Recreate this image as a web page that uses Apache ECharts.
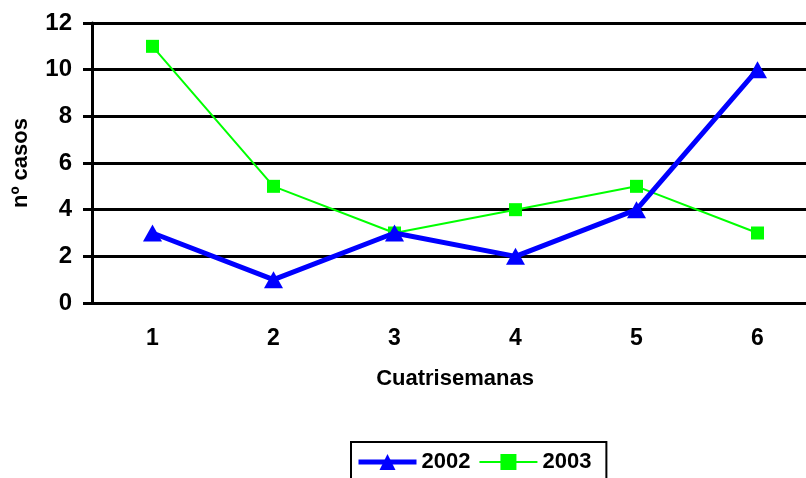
<!DOCTYPE html>
<html>
<head>
<meta charset="utf-8">
<script src="https://cdn.jsdelivr.net/npm/echarts@6/dist/echarts.min.js"></script>
<style>
    html, body { margin: 0; padding: 0; background: #fff; }
    #chart { width: 806px; height: 478px; }
</style>
</head>
<body>
<div id="chart"></div>
<script>
// datos
const categories = ["1", "2", "3", "4", "5", "6"];
const casos2002 = [3, 1, 3, 2, 4, 10];
const casos2003 = [11, 5, 3, 4, 5, 3];
const yTicks = { min: 0, max: 12, interval: 2 };

const chart = echarts.init(document.getElementById("chart"));
const font = "'Liberation Sans', Arial, sans-serif";

const option = {
    backgroundColor: "#fff",
    animation: false,
    textStyle: { fontFamily: font, color: "#000" },
    grid: {
        left: 92,
        top: 23,
        width: 726,
        height: 280,
        containLabel: false,
        outerBoundsMode: "none",
    },
    legend: {
        left: 351,
        top: 442,
        padding: [9, 15, 12, 5],
        borderColor: "#000",
        borderWidth: 2,
        itemWidth: 58,
        itemHeight: 20,
        itemGap: 8,
        textStyle: { fontFamily: font, fontWeight: "bold", fontSize: 22, color: "#000" },
        data: [
            { name: "2002", lineStyle: { width: 5 } },
            { name: "2003", lineStyle: { width: 2 } },
        ],
    },
    xAxis: {
        type: "category",
        data: categories,
        boundaryGap: true,
        name: "Cuatrisemanas",
        nameLocation: "middle",
        nameGap: 65,
        nameTextStyle: { fontFamily: font, fontWeight: "bold", fontSize: 22, color: "#000" },
        axisLine: { lineStyle: { color: "#000", width: 3 } },
        axisTick: { show: false },
        axisLabel: { fontFamily: font, fontWeight: "bold", fontSize: 23, color: "#000", margin: 24 },
    },
    yAxis: {
        type: "value",
        min: yTicks.min,
        max: yTicks.max,
        interval: yTicks.interval,
        name: "nº casos",
        nameLocation: "middle",
        nameGap: 60,
        nameTextStyle: { fontFamily: font, fontWeight: "bold", fontSize: 22, color: "#000" },
        axisLine: { show: true, lineStyle: { color: "#000", width: 3 } },
        axisTick: { show: true, length: 9, lineStyle: { color: "#000", width: 3 } },
        axisLabel: { fontFamily: font, fontWeight: "bold", fontSize: 24, color: "#000", margin: 20 },
        splitLine: { show: true, lineStyle: { color: "#000", width: 3 } },
    },
    series: [
        {
            name: "2002",
            type: "line",
            data: casos2002,
            symbol: "triangle",
            symbolSize: [19, 17],
            lineStyle: { color: "#0000ff", width: 5 },
            itemStyle: { color: "#0000ff" },
            z: 3,
        },
        {
            name: "2003",
            type: "line",
            data: casos2003,
            symbol: "rect",
            symbolSize: 13,
            lineStyle: { color: "#00ff00", width: 2 },
            itemStyle: { color: "#00ff00" },
            z: 2,
        },
    ],
};

chart.setOption(option);
</script>
</body>
</html>
